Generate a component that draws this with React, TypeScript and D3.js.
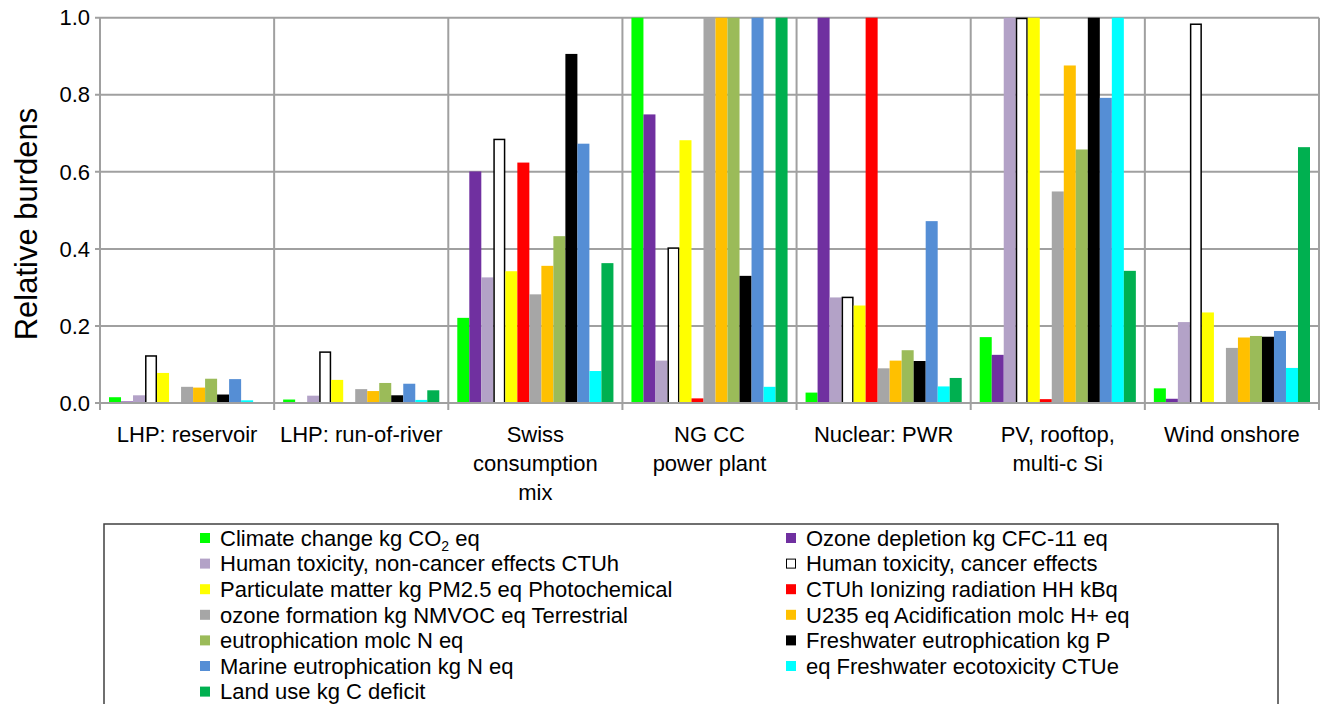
import React from "react";
import * as d3 from "d3";

const categories: string[][] = [
  ["LHP: reservoir"],
  ["LHP: run-of-river"],
  ["Swiss", "consumption", "mix"],
  ["NG CC", "power plant"],
  ["Nuclear: PWR"],
  ["PV, rooftop,", "multi-c Si"],
  ["Wind onshore"],
];
const categoryKeys = ["LHP reservoir", "LHP run-of-river", "Swiss mix", "NG CC", "Nuclear PWR", "PV rooftop", "Wind onshore"];

const seriesNames = [
  "Climate change kg CO2 eq",
  "Ozone depletion kg CFC-11 eq",
  "Human toxicity, non-cancer effects CTUh",
  "Human toxicity, cancer effects",
  "Particulate matter kg PM2.5 eq Photochemical",
  "CTUh Ionizing radiation HH kBq",
  "ozone formation kg NMVOC eq Terrestrial",
  "U235 eq Acidification molc H+ eq",
  "eutrophication molc N eq",
  "Freshwater eutrophication kg P",
  "Marine eutrophication kg N eq",
  "eq Freshwater ecotoxicity CTUe",
  "Land use kg C deficit",
];

const seriesColors = [
  "#00ff00", "#7030a0", "#b3a2c7", "#ffffff", "#ffff00", "#ff0000", "#a6a6a6",
  "#ffc000", "#9bbb59", "#000000", "#558ed5", "#00ffff", "#00b050",
];

// values per category, in series order
const lhpReservoir = [0.015, 0.004, 0.02, 0.124, 0.078, 0, 0.042, 0.04, 0.063, 0.022, 0.062, 0.007, 0];
const lhpRunOfRiver = [0.009, 0, 0.019, 0.134, 0.06, 0, 0.036, 0.031, 0.052, 0.02, 0.05, 0.008, 0.033];
const swissMix = [0.221, 0.601, 0.326, 0.686, 0.342, 0.624, 0.282, 0.356, 0.433, 0.906, 0.673, 0.083, 0.363];
const ngcc = [1.0, 0.749, 0.11, 0.404, 0.682, 0.012, 1.0, 1.0, 1.0, 0.33, 1.0, 0.042, 1.0];
const nuclear = [0.027, 1.0, 0.274, 0.276, 0.253, 1.0, 0.09, 0.11, 0.137, 0.109, 0.472, 0.043, 0.065];
const pvRooftop = [0.171, 0.125, 1.0, 1.0, 1.0, 0.01, 0.549, 0.876, 0.658, 1.0, 0.792, 1.0, 0.343];
const windOnshore = [0.038, 0.011, 0.21, 0.985, 0.235, 0, 0.143, 0.17, 0.174, 0.172, 0.187, 0.091, 0.664];

const allValues = [lhpReservoir, lhpRunOfRiver, swissMix, ngcc, nuclear, pvRooftop, windOnshore];
const yTicks = [0, 0.2, 0.4, 0.6, 0.8, 1.0];

const FONT = "'Liberation Sans', Arial, Helvetica, sans-serif";
const GRID = "#a0a0a0";

export default function App() {
  const width = 1325;
  const height = 704;
  const left = 100, right = 1319, top = 17.7, bottom = 403;

  const y = d3.scaleLinear().domain([0, 1]).range([bottom, top]);
  const x = d3.scaleBand<string>().domain(categoryKeys).range([left, right]).padding(0);
  const bw = x.bandwidth();
  const xi = d3.scaleBand<number>().domain(d3.range(seriesNames.length)).range([9, bw - 9]).padding(0);

  const boundaries = d3.range(categoryKeys.length + 1).map((i) => left + i * bw);

  const legendRowH = 25.6;
  const col1X = 200, col2X = 786;

  return (
    <svg width={width} height={height} style={{ position: "absolute", left: 0, top: 0, background: "#fff" }}>
      <rect x={0} y={0} width={width} height={height} fill="#fff" />
      {yTicks.map((t) => (
        <line key={"h" + t} x1={left - 5} x2={right} y1={y(t)} y2={y(t)} stroke={GRID} strokeWidth={2} />
      ))}
      {boundaries.map((b, i) => (
        <line key={"v" + i} x1={b} x2={b} y1={top} y2={bottom + 7} stroke={GRID} strokeWidth={2} />
      ))}
      {allValues.map((vals, ci) => (
        <g key={"g" + ci} transform={`translate(${x(categoryKeys[ci])},0)`}>
          {vals.map((v, si) => {
            if (v <= 0) return null;
            const isOutline = si === 3;
            const yy = y(Math.min(v, 1));
            return (
              <rect
                key={si}
                x={(xi(si) as number) + (isOutline ? 0.75 : 0)}
                y={yy + (isOutline ? 0.75 : 0)}
                width={xi.bandwidth() - (isOutline ? 1.5 : 0)}
                height={Math.max(0, bottom - yy - (isOutline ? 0.75 : 0))}
                fill={seriesColors[si]}
                stroke={isOutline ? "#000" : "none"}
                strokeWidth={isOutline ? 1.5 : 0}
              />
            );
          })}
        </g>
      ))}
      <line x1={left - 5} x2={right} y1={bottom} y2={bottom} stroke={GRID} strokeWidth={2} />
      {yTicks.map((t) => (
        <text key={"yt" + t} x={90} y={y(t)} dy="0.35em" textAnchor="end" fontFamily={FONT} fontSize={22} fill="#000">
          {t.toFixed(1)}
        </text>
      ))}
      <text transform="translate(26,224) rotate(-90)" textAnchor="middle" fontFamily={FONT} fontSize={31} fill="#000" dy="0.35em">
        Relative burdens
      </text>
      {categories.map((lines, ci) => (
        <text key={"c" + ci} textAnchor="middle" fontFamily={FONT} fontSize={22} fill="#000">
          {lines.map((ln, li) => (
            <tspan key={li} x={(x(categoryKeys[ci]) as number) + bw / 2} y={442 + li * 29}>
              {ln}
            </tspan>
          ))}
        </text>
      ))}
      <rect x={104} y={524} width={1174} height={220} fill="none" stroke="#404040" strokeWidth={1.5} />
      {seriesNames.map((name, si) => {
        const col = si % 2;
        const row = Math.floor(si / 2);
        const sx = col === 0 ? col1X : col2X;
        const cy = 538 + row * legendRowH;
        return (
          <g key={"l" + si}>
            <rect
              x={sx + (si === 3 ? 0.5 : 0)}
              y={cy - 5 + (si === 3 ? 0.5 : 0)}
              width={si === 3 ? 9 : 10}
              height={si === 3 ? 9 : 10}
              fill={seriesColors[si]}
              stroke={si === 3 ? "#000" : "none"}
              strokeWidth={1}
            />
            <text x={sx + 20} y={cy} dy="0.35em" fontFamily={FONT} fontSize={22} fill="#000">
              {si === 0 ? (
                <>
                  Climate change kg CO
                  <tspan fontSize={14} dy="5">2</tspan>
                  <tspan dy="-5"> eq</tspan>
                </>
              ) : (
                name
              )}
            </text>
          </g>
        );
      })}
    </svg>
  );
}
